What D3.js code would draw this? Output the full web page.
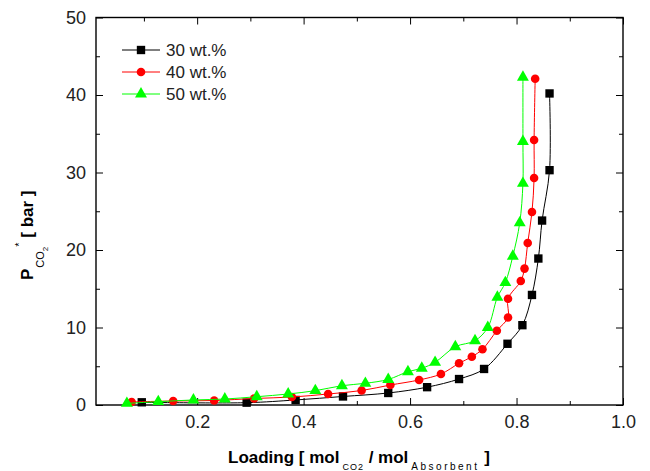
<!DOCTYPE html>
<html>
<head>
<meta charset="utf-8">
<script src="https://cdn.jsdelivr.net/npm/d3@7"></script>
<style>
  body { margin: 0; background: #fff; }
  svg { display: block; font-family: Arial, "Liberation Sans", sans-serif; }
</style>
</head>
<body>
<div id="chart"></div>
<script>
// CO2 loading (mol/mol) and equilibrium pressure (bar)
var loading30  = [0.096, 0.293, 0.385, 0.474, 0.559, 0.632, 0.692, 0.739, 0.783, 0.811, 0.829, 0.841, 0.848, 0.862, 0.862];
var pressure30 = [0.35, 0.3, 0.65, 1.1, 1.55, 2.3, 3.35, 4.65, 7.9, 10.3, 14.2, 18.9, 23.8, 30.3, 40.2];

var loading40  = [0.077, 0.155, 0.232, 0.307, 0.378, 0.446, 0.509, 0.563, 0.617, 0.658, 0.692, 0.716, 0.736, 0.763, 0.784, 0.784, 0.808, 0.815, 0.821, 0.829, 0.833, 0.833, 0.835];
var pressure40 = [0.39, 0.52, 0.58, 0.84, 1.03, 1.42, 1.87, 2.58, 3.23, 4.0, 5.38, 6.23, 7.19, 9.59, 11.3, 13.7, 16.0, 17.6, 20.9, 24.9, 29.3, 34.2, 42.1];

var loading50  = [0.068, 0.127, 0.193, 0.252, 0.312, 0.371, 0.422, 0.472, 0.516, 0.559, 0.596, 0.622, 0.647, 0.685, 0.722, 0.746, 0.764, 0.779, 0.793, 0.806, 0.812, 0.812, 0.812];
var pressure50 = [0.21, 0.43, 0.65, 0.77, 1.07, 1.42, 1.85, 2.49, 2.8, 3.3, 4.3, 4.74, 5.51, 7.52, 8.3, 10.0, 13.9, 15.8, 19.2, 23.5, 28.6, 34.0, 42.3];

var seriesNames = ["30 wt.%", "40 wt.%", "50 wt.%"];
var xMajorTicks = [0.2, 0.4, 0.6, 0.8, 1.0];
var xMinorTicks = [0.1, 0.3, 0.5, 0.7, 0.9];
var yMajorTicks = [0, 10, 20, 30, 40, 50];
var yMinorTicks = [5, 15, 25, 35, 45];

var w = 650, h = 471;
var plotL = 96, plotR = 623, plotT = 17.5, plotB = 405;

var svg = d3.select("#chart").append("svg")
    .attr("width", w)
    .attr("height", h);

var x = d3.scaleLinear().domain([0.01, 1.0]).range([plotL, plotR]);
var y = d3.scaleLinear().domain([0, 50]).range([plotB, plotT]);

function zip(xs, ys) {
    return xs.map(function(v, i) { return [v, ys[i]]; });
}

var series = [
    { name: seriesNames[0], data: zip(loading30, pressure30), color: "#000000", symbol: d3.symbolSquare, size: 70 },
    { name: seriesNames[1], data: zip(loading40, pressure40), color: "#ff0000", symbol: d3.symbolCircle, size: 58 },
    { name: seriesNames[2], data: zip(loading50, pressure50), color: "#00ff00", symbol: d3.symbolTriangle, size: 62 }
];

// axes: inward ticks on all four sides
function styleAxis(g) {
    g.select(".domain").remove();
    g.selectAll(".tick line").attr("stroke", "#000").attr("stroke-width", 1);
    g.selectAll(".tick text").attr("fill", "#222").style("font-size", "18px");
}

svg.append("g").attr("transform", "translate(0," + plotB + ")")
    .call(d3.axisBottom(x).tickValues(xMajorTicks).tickSize(-7).tickPadding(10).tickFormat(d3.format(".1f")))
    .call(styleAxis);
svg.append("g").attr("transform", "translate(0," + plotB + ")")
    .call(d3.axisBottom(x).tickValues(xMinorTicks).tickSize(-4).tickFormat(""))
    .call(styleAxis);
svg.append("g").attr("transform", "translate(0," + plotT + ")")
    .call(d3.axisTop(x).tickValues(xMajorTicks).tickSize(-7).tickFormat(""))
    .call(styleAxis);
svg.append("g").attr("transform", "translate(0," + plotT + ")")
    .call(d3.axisTop(x).tickValues(xMinorTicks).tickSize(-4).tickFormat(""))
    .call(styleAxis);

svg.append("g").attr("transform", "translate(" + plotL + ",0)")
    .call(d3.axisLeft(y).tickValues(yMajorTicks).tickSize(-7).tickPadding(10))
    .call(styleAxis);
svg.append("g").attr("transform", "translate(" + plotL + ",0)")
    .call(d3.axisLeft(y).tickValues(yMinorTicks).tickSize(-4).tickFormat(""))
    .call(styleAxis);
svg.append("g").attr("transform", "translate(" + plotR + ",0)")
    .call(d3.axisRight(y).tickValues(yMajorTicks).tickSize(-7).tickFormat(""))
    .call(styleAxis);
svg.append("g").attr("transform", "translate(" + plotR + ",0)")
    .call(d3.axisRight(y).tickValues(yMinorTicks).tickSize(-4).tickFormat(""))
    .call(styleAxis);

svg.append("rect")
    .attr("x", plotL).attr("y", plotT)
    .attr("width", plotR - plotL).attr("height", plotB - plotT)
    .attr("fill", "none").attr("stroke", "#000").attr("stroke-width", 1.4);

// series
var line = d3.line()
    .x(function(d) { return x(d[0]); })
    .y(function(d) { return y(d[1]); })
    .curve(d3.curveCatmullRom.alpha(0.5));

series.forEach(function(s) {
    svg.append("path")
        .datum(s.data)
        .attr("d", line)
        .attr("fill", "none")
        .attr("stroke", s.color)
        .attr("stroke-width", 1);
    svg.append("g").selectAll("path")
        .data(s.data)
        .enter()
        .append("path")
        .attr("transform", function(d) { return "translate(" + x(d[0]) + "," + y(d[1]) + ")"; })
        .attr("d", d3.symbol().type(s.symbol).size(s.size))
        .attr("fill", s.color);
});

// legend
var legend = svg.append("g");
series.forEach(function(s, i) {
    var ly = 50 + i * 22;
    legend.append("line")
        .attr("x1", 122).attr("x2", 160)
        .attr("y1", ly).attr("y2", ly)
        .attr("stroke", s.color).attr("stroke-width", 1);
    legend.append("path")
        .attr("transform", "translate(141," + ly + ")")
        .attr("d", d3.symbol().type(s.symbol).size(s.size))
        .attr("fill", s.color);
    legend.append("text")
        .attr("x", 166).attr("y", ly).attr("dy", "0.36em")
        .style("font-size", "17px").attr("fill", "#222")
        .text(s.name);
});

// x axis title
var xt = svg.append("text")
    .attr("x", 228).attr("y", 463)
    .attr("fill", "#000");
xt.append("tspan").style("font-size", "17px").style("font-weight", "bold").text("Loading [ mol");
xt.append("tspan").style("font-size", "9px").style("letter-spacing", "1px").attr("dx", 3).attr("dy", 7).text("CO2");
xt.append("tspan").style("font-size", "17px").style("font-weight", "bold").attr("dy", -7).text(" / mol");
xt.append("tspan").style("font-size", "10px").style("letter-spacing", "2.5px").attr("dx", 3).attr("dy", 7).text("Absorbent");
xt.append("tspan").style("font-size", "17px").style("font-weight", "bold").attr("dy", -7).text(" ]");

// y axis title
var yt = svg.append("text")
    .attr("transform", "translate(33,280) rotate(-90)")
    .attr("fill", "#000");
yt.append("tspan").style("font-size", "17px").style("font-weight", "bold").text("P");
yt.append("tspan").style("font-size", "11px").attr("dx", 1).attr("dy", 11).text("CO");
yt.append("tspan").style("font-size", "8px").attr("dy", 4).text("2");
yt.append("tspan").style("font-size", "11px").attr("dy", -25).text("*");
yt.append("tspan").style("font-size", "17px").style("font-weight", "bold").attr("dy", 10).text(" [ bar ]");
</script>
</body>
</html>
